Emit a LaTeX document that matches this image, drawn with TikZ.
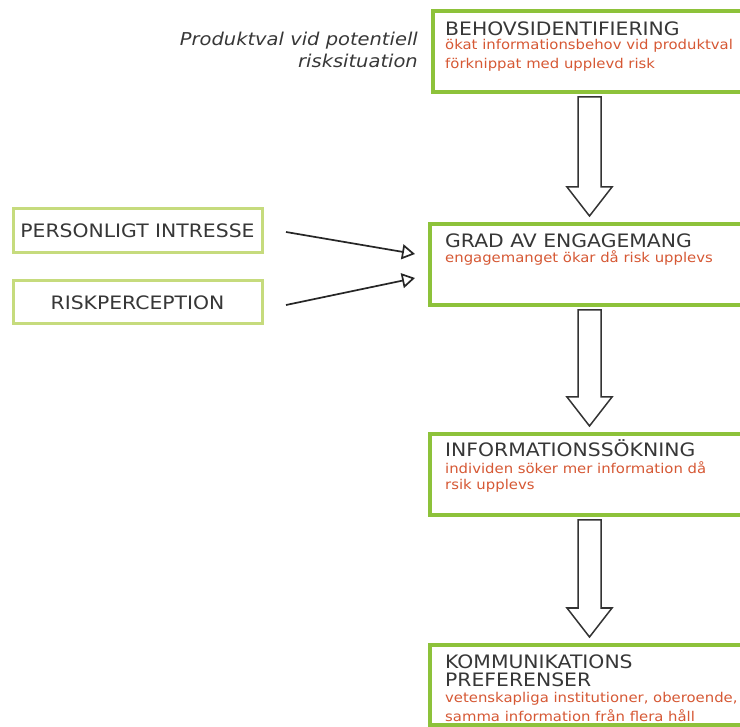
\documentclass[tikz,border=0pt]{standalone}
\usepackage{fontspec}
\setmainfont{DejaVu Sans}[FakeStretch=1.1]
\usetikzlibrary{arrows.meta,positioning,calc}
\definecolor{boxgreen}{RGB}{141,194,58}
\definecolor{palegreen}{RGB}{198,219,125}
\definecolor{desctext}{RGB}{214,88,52}
\definecolor{headtext}{RGB}{55,55,55}

% hollow block arrow from the bottom of one box to the top of the next
\newcommand{\blockdown}[2]{%
  \draw[blockarr] let \p1=(#1.south), \p2=(#2.north) in
    (578pt,{\y1-5pt}) -- (601pt,{\y1-5pt}) -- (601pt,{\y2+37pt})
    -- (612pt,{\y2+37pt}) -- (589.5pt,{\y2+8pt}) -- (567pt,{\y2+37pt})
    -- (578pt,{\y2+37pt}) -- cycle;}

\begin{document}
\begin{tikzpicture}[x=1pt,y=-1pt,
    mainbox/.style={draw=boxgreen,line width=4pt,outer sep=0pt,
      fill=white,minimum width=330pt,anchor=north west},
    sidebox/.style={draw=palegreen,line width=3pt,outer sep=0pt,
      minimum width=249pt,minimum height=44pt,text=headtext,
      font=\fontsize{18.5}{18.5}\selectfont},
    headline/.style={anchor=base west,inner sep=0pt,text=headtext,align=left,
      font=\fontsize{18.5}{18}\selectfont},
    descline/.style={anchor=base west,inner sep=0pt,text=desctext,align=left},
    blockarr/.style={draw=black!80,line width=1.5pt,fill=white,line join=miter},
    feed/.style={draw=black!85,line width=1.7pt,
      -{Triangle[open,length=13pt,width=15pt,line width=1.7pt]}}]
  \fill[white] (0,0) rectangle (740,727);
  \useasboundingbox (0,0) rectangle (740,727);

  % base anchor of a two-line node sits on its last line
  \node[align=right,anchor=base east,inner sep=0pt,text=headtext,
    font=\fontsize{17.7}{22}\selectfont\itshape] (situation) at (418,68)
    {Produktval vid potentiell\\risksituation};

  \node[mainbox,minimum height=81pt] (behov) at (433,11) {};
  \node[mainbox,minimum height=81pt] (engage) at (430,224) {};
  \node[mainbox,minimum height=81pt] (search) at (430,434) {};
  \node[mainbox,minimum height=80pt] (komm) at (430,645) {};

  \node[headline] (behovT) at (445,35.5) {BEHOVSIDENTIFIERING};
  \node[descline,font=\fontsize{13.5}{19}\selectfont] (behovD) at (445,69)
    {ökat informationsbehov vid produktval\\förknippat med upplevd risk};
  \node[headline] (engageT) at (445,247.5) {GRAD AV ENGAGEMANG};
  \node[descline,font=\fontsize{13.5}{19}\selectfont] (engageD) at (445,263)
    {engagemanget ökar då risk upplevs};
  \node[headline] (searchT) at (445,456.5) {INFORMATIONSSÖKNING};
  \node[descline,font=\fontsize{13.5}{17}\selectfont] (searchD) at (445,490)
    {individen söker mer information då\\rsik upplevs};
  \node[headline] (kommT) at (445,686.5) {KOMMUNIKATIONS\\PREFERENSER};
  \node[descline,font=\fontsize{13.5}{19}\selectfont] (kommD) at (445,721.5)
    {vetenskapliga institutioner, oberoende,\\samma information från flera håll};

  \node[sidebox,anchor=north west] (interest) at (13,209) {PERSONLIGT INTRESSE};
  \node[sidebox,minimum height=43pt] (riskp) [below=28pt of interest]
    {RISKPERCEPTION};

  \coordinate (in1) at ([xshift=-15pt,yshift=10.5pt]engage.west);
  \coordinate (in2) at ([xshift=-15pt,yshift=-13.5pt]engage.west);
  \draw[feed] ([xshift=24pt,yshift=-1pt]interest.east) -- (in1);
  \draw[feed] ([xshift=24pt,yshift=-2.5pt]riskp.east) -- (in2);

  \blockdown{behov}{engage}
  \blockdown{engage}{search}
  \blockdown{search}{komm}
\end{tikzpicture}
\end{document}
